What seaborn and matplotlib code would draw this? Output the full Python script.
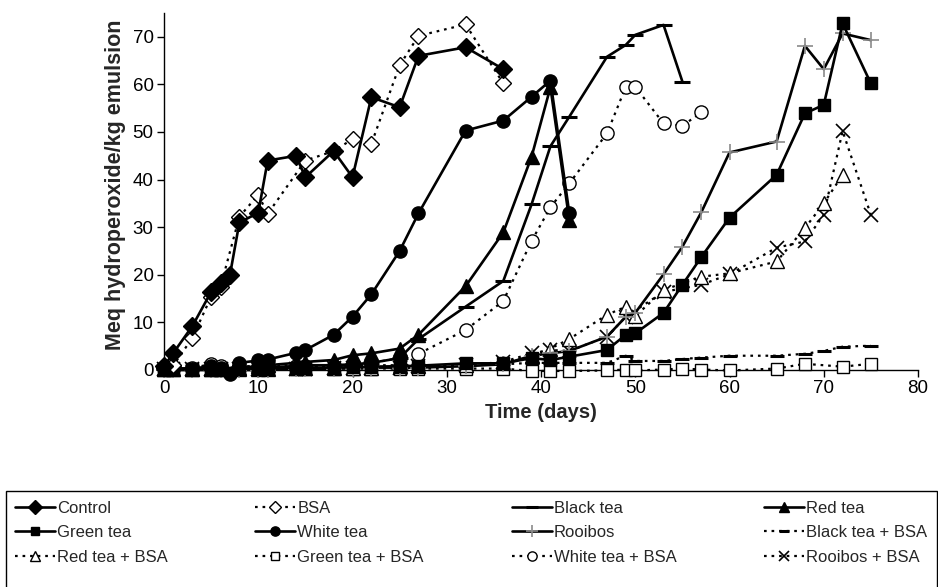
import matplotlib
matplotlib.use("Agg")
import matplotlib.pyplot as plt
from matplotlib.patches import Rectangle
import seaborn as sns

# ---------------- data ----------------
control_days = [0, 1, 3, 5, 6, 7, 8, 10, 11, 14, 15, 18, 20, 22, 25, 27, 32, 36]
control_vals = [0.8, 3.6, 9.2, 16.4, 18.3, 20.0, 31.0, 33.0, 44.0, 45.0, 40.5, 46.0, 40.5, 57.3, 55.2, 66.0, 67.8, 63.2]

bsa_days = [0, 1, 3, 5, 6, 8, 10, 11, 15, 18, 20, 22, 25, 27, 32, 36]
bsa_vals = [0.5, 1.0, 6.7, 15.4, 17.5, 32.2, 36.8, 32.8, 44.0, 46.0, 48.5, 47.5, 64.0, 70.2, 72.6, 60.2]

black_days = [0, 1, 3, 5, 6, 8, 10, 11, 14, 15, 18, 20, 22, 25, 27, 32, 36, 39, 41, 43, 47, 49, 50, 53, 55]
black_vals = [0.3, 0.3, 0.3, 0.3, 0.3, 0.5, 0.5, 0.6, 0.8, 1.0, 1.0, 1.2, 1.5, 2.5, 6.5, 13.3, 18.7, 34.8, 47.0, 53.2, 65.8, 68.3, 70.4, 72.5, 60.6]

red_days = [0, 1, 3, 5, 6, 8, 10, 11, 14, 15, 18, 20, 22, 25, 27, 32, 36, 39, 41, 43]
red_vals = [0.2, 0.2, 0.2, 0.3, 0.3, 0.5, 0.8, 1.0, 1.5, 1.7, 2.1, 3.1, 3.5, 4.5, 7.4, 17.6, 28.9, 44.8, 59.4, 31.5]

green_days = [0, 1, 3, 5, 6, 8, 10, 11, 14, 15, 18, 20, 22, 25, 27, 32, 36, 39, 41, 43, 47, 49, 50, 53, 55, 57, 60, 65, 68, 70, 72, 75]
green_vals = [0.2, 0.2, 0.2, 0.2, 0.3, 0.3, 0.3, 0.3, 0.5, 0.5, 0.5, 0.6, 0.7, 0.8, 0.9, 1.4, 1.4, 2.5, 2.1, 2.8, 4.2, 7.4, 7.7, 12.0, 17.9, 23.7, 32.0, 41.0, 53.9, 55.7, 72.8, 60.2]

white_days = [0, 1, 3, 5, 6, 7, 8, 10, 11, 14, 15, 18, 20, 22, 25, 27, 32, 36, 39, 41, 43]
white_vals = [0.5, 0.3, 0.3, 0.8, 0.5, -0.8, 1.5, 2.0, 2.2, 3.6, 4.2, 7.4, 11.2, 15.9, 25.0, 32.9, 50.3, 52.4, 57.4, 60.8, 33.0]

rooibos_days = [0, 1, 3, 5, 6, 8, 10, 11, 14, 15, 18, 20, 22, 25, 27, 32, 36, 39, 41, 43, 47, 49, 50, 53, 55, 57, 60, 65, 68, 70, 72, 75]
rooibos_vals = [0.0, 0.0, 0.0, 0.0, 0.0, 0.0, 0.0, 0.1, 0.2, 0.2, 0.3, 0.3, 0.5, 0.5, 0.5, 0.8, 1.2, 3.0, 3.5, 4.0, 7.0, 11.2, 12.0, 20.1, 25.9, 33.1, 45.7, 48.0, 68.1, 63.2, 70.7, 69.3]

blackbsa_days = [0, 1, 3, 5, 6, 8, 10, 11, 14, 15, 18, 20, 22, 25, 27, 32, 36, 39, 41, 43, 47, 49, 50, 53, 55, 57, 60, 65, 68, 70, 72, 75]
blackbsa_vals = [0.8, 0.8, 0.8, 0.8, 0.8, 0.8, 0.8, 0.8, 0.8, 0.8, 0.8, 1.0, 1.0, 1.0, 1.0, 1.0, 1.2, 1.5, 1.5, 1.5, 1.5, 3.0, 1.9, 1.9, 2.3, 2.6, 3.0, 3.0, 3.4, 4.0, 4.9, 5.1]

redbsa_days = [0, 1, 3, 5, 6, 8, 10, 11, 14, 15, 18, 20, 22, 25, 27, 32, 36, 39, 41, 43, 47, 49, 50, 53, 57, 60, 65, 68, 70, 72]
redbsa_vals = [0.3, 0.3, 0.3, 0.3, 0.3, 0.3, 0.3, 0.3, 0.5, 0.5, 0.5, 0.5, 0.5, 0.8, 0.8, 1.0, 1.5, 3.0, 4.5, 6.5, 11.6, 13.3, 11.3, 16.8, 19.6, 20.3, 22.8, 29.8, 35.0, 41.0]

greenbsa_days = [0, 1, 3, 5, 6, 8, 10, 11, 14, 15, 18, 20, 22, 25, 27, 32, 36, 39, 41, 43, 47, 49, 50, 53, 55, 57, 60, 65, 68, 72, 75]
greenbsa_vals = [0.3, 0.3, 0.3, 0.3, 0.3, 0.3, 0.3, 0.3, 0.3, 0.3, 0.3, 0.3, 0.3, 0.3, 0.3, 0.3, 0.3, -0.2, -0.2, -0.2, -0.1, 0.1, -0.1, 0.1, 0.3, 0.1, -0.1, 0.3, 1.3, 0.7, 1.3]

whitebsa_days = [0, 1, 3, 5, 6, 8, 10, 11, 14, 15, 18, 20, 22, 25, 27, 32, 36, 39, 41, 43, 47, 49, 50, 53, 55, 57]
whitebsa_vals = [0.5, 0.5, 0.5, 1.2, 0.8, 0.5, 0.5, 0.5, 0.8, 0.8, 0.8, 1.0, 1.5, 2.5, 3.4, 8.4, 14.5, 27.1, 34.2, 39.2, 49.7, 59.5, 59.5, 51.8, 51.3, 54.1]

rooibosbsa_days = [0, 1, 3, 5, 6, 8, 10, 11, 14, 15, 18, 20, 22, 25, 27, 32, 36, 39, 41, 43, 47, 49, 53, 57, 60, 65, 68, 70, 72, 75]
rooibosbsa_vals = [0.3, 0.3, 0.3, 0.3, 0.3, 0.3, 0.3, 0.3, 0.3, 0.3, 0.5, 0.5, 0.5, 0.5, 0.8, 1.0, 1.7, 3.5, 4.2, 4.0, 7.0, 11.2, 16.4, 17.9, 20.1, 25.7, 27.0, 32.6, 50.2, 32.6]

labels = ["Control", "BSA", "Black tea", "Red tea",
          "Green tea", "White tea", "Rooibos", "Black tea + BSA",
          "Red tea + BSA", "Green tea + BSA", "White tea + BSA", "Rooibos + BSA"]

x_ticks = [0, 10, 20, 30, 40, 50, 60, 70, 80]
y_ticks = [0, 10, 20, 30, 40, 50, 60, 70]

# ---------------- styles ----------------
SOLID = "-"
DOT = (0, (1.2, 2.2))
GREY = "#8a8a8a"
styles = [
    dict(marker="D", ms=9.5, mfc="black", mec="black", ls=SOLID),
    dict(marker="D", ms=8.5, mfc="white", mec="black", ls=DOT),
    dict(marker="_", ms=12, mfc="black", mec="black", ls=SOLID, mew=2.2),
    dict(marker="^", ms=9.5, mfc="black", mec="black", ls=SOLID),
    dict(marker="s", ms=9, mfc="black", mec="black", ls=SOLID),
    dict(marker="o", ms=9.5, mfc="black", mec="black", ls=SOLID),
    dict(marker="+", ms=12, mfc=GREY, mec=GREY, ls=SOLID, mew=1.2),
    dict(marker="_", ms=10, mfc="black", mec="black", ls=DOT, mew=2.2),
    dict(marker="^", ms=10, mfc="white", mec="black", ls=DOT),
    dict(marker="s", ms=9, mfc="white", mec="black", ls=DOT),
    dict(marker="o", ms=9.5, mfc="white", mec="black", ls=DOT),
    dict(marker="x", ms=9.5, mfc="black", mec="black", ls=DOT, mew=1.2),
]
data = [
    (control_days, control_vals), (bsa_days, bsa_vals), (black_days, black_vals), (red_days, red_vals),
    (green_days, green_vals), (white_days, white_vals), (rooibos_days, rooibos_vals), (blackbsa_days, blackbsa_vals),
    (redbsa_days, redbsa_vals), (greenbsa_days, greenbsa_vals), (whitebsa_days, whitebsa_vals), (rooibosbsa_days, rooibosbsa_vals),
]

sns.set_theme(style="ticks")
plt.rcParams["font.family"] = ["Liberation Sans", "DejaVu Sans"]
plt.rcParams["axes.linewidth"] = 1.0

W, H = 938, 587
fig = plt.figure(figsize=(W / 100, H / 100), dpi=100)
ax = fig.add_axes([164 / W, 1 - 370 / H, (918 - 164) / W, (370 - 13) / H])

draw_order = [9, 7, 11, 8, 10, 6, 4, 2, 3, 5, 1, 0]
for i in draw_order:
    d, v = data[i]
    st = styles[i]
    is_dot = st["ls"] != SOLID
    sns.lineplot(
        x=d, y=v, ax=ax, label=labels[i], color="black",
        linestyle=st["ls"], linewidth=1.6 if is_dot else 1.9,
        marker=st["marker"], markersize=st["ms"],
        markerfacecolor=st["mfc"], markeredgecolor=st["mec"],
        markeredgewidth=st.get("mew", 1.0), clip_on=False,
        zorder=3 + draw_order.index(i) * 0.1, estimator=None, sort=False,
    )
h_all, l_all = ax.get_legend_handles_labels()
hmap = dict(zip(l_all, h_all))
if ax.get_legend() is not None:
    ax.get_legend().remove()

ax.set_xlim(0, 80)
ax.set_ylim(0, 75)
ax.set_xticks(x_ticks)
ax.set_yticks(y_ticks)
ax.tick_params(axis="both", direction="out", length=5, width=1, labelsize=13.5, colors="black", pad=2.5)
for s in ["top", "right"]:
    ax.spines[s].set_visible(False)
for s in ["left", "bottom"]:
    ax.spines[s].set_color("black")
ax.set_xlabel("Time (days)", fontsize=14.5, fontweight="bold", labelpad=4)
ax.set_ylabel("Meq hydroperoxide/kg emulsion", fontsize=15.5, fontweight="bold")
ax.yaxis.set_label_coords(-0.05, 0.518)

# legend: 4 columns, rows in reading order
order = []
for c in range(4):
    for r in range(3):
        order.append(r * 4 + c)
leg = fig.legend(
    [hmap[labels[k]] for k in order], [labels[k] for k in order],
    ncol=4, loc="upper left", bbox_to_anchor=(5 / W, 0, 932 / W, 1 - 491 / H),
    mode="expand", frameon=False,
    fontsize=12, handlelength=2.4, handletextpad=0.12, columnspacing=0.3,
    labelspacing=0.56, borderpad=0.6, borderaxespad=0, markerscale=0.7,
)
# legend box: open at the bottom edge of the image, as in the reference
fig.patches.append(Rectangle((5.5 / W, -0.02), 931 / W, (587 - 491) / H + 0.02,
                             transform=fig.transFigure, fill=False,
                             edgecolor="black", linewidth=1.0))

fig.savefig("out.png", dpi=100)
